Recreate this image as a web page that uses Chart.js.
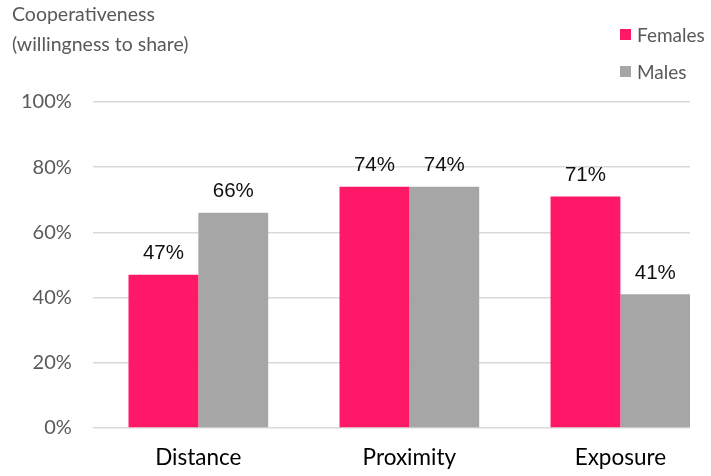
<!DOCTYPE html>
<html><head><meta charset="utf-8">
<script src="https://cdn.jsdelivr.net/npm/chart.js@4"></script>
<style>html,body{margin:0;padding:0;background:#fff;overflow:hidden;width:711px;height:476px}#wrap{width:711px;height:476px;overflow:hidden}</style>
</head><body><div id="wrap"><canvas id="c" width="711" height="488"></canvas></div>
<script>
const categories = ["Distance", "Proximity", "Exposure"];
const females = [47, 74, 71];
const males = [66, 74, 41];
const seriesNames = ["Females", "Males"];
const yTicks = [0, 20, 40, 60, 80, 100];
const titleLines = ["Cooperativeness", "(willingness to share)"];

const PINK = "#FF1867", GRAY = "#A6A6A6", TXT = "#595959";
const FONT = "Lato, 'Open Sans', sans-serif";

const titleAndLegend = {
  id: "titleAndLegend",
  afterDraw(chart) {
    const ctx = chart.ctx;
    ctx.save();
    ctx.fillStyle = TXT;
    ctx.font = "19.5px " + FONT;
    ctx.textBaseline = "middle";
    ctx.textAlign = "left";
    titleLines.forEach((t, i) => ctx.fillText(t, 12, 15 + i * 30));
    const ys = [34.5, 71.5];
    chart.data.datasets.forEach((ds, i) => {
      ctx.fillStyle = ds.backgroundColor;
      ctx.fillRect(620, ys[i] - 5.5, 11, 11);
      ctx.fillStyle = TXT;
      ctx.font = "19px " + FONT;
      ctx.fillText(ds.label, 637, ys[i] + 1);
    });
    ctx.restore();
  }
};

const valueLabels = {
  id: "valueLabels",
  afterDatasetsDraw(chart) {
    const ctx = chart.ctx;
    ctx.save();
    ctx.font = "20.5px 'Liberation Sans', Arial, sans-serif";
    ctx.fillStyle = "#111";
    ctx.textAlign = "center";
    ctx.textBaseline = "middle";
    chart.data.datasets.forEach((ds, i) => {
      chart.getDatasetMeta(i).data.forEach((bar, j) => {
        ctx.fillText(ds.data[j].y + "%", bar.x, bar.y - 21);
      });
    });
    ctx.restore();
  }
};

new Chart(document.getElementById("c"), {
  type: "bar",
  data: {
    datasets: [
      { label: seriesNames[0], data: females.map((v, i) => ({ x: i, y: v })), backgroundColor: PINK },
      { label: seriesNames[1], data: males.map((v, i) => ({ x: i, y: v })), backgroundColor: GRAY }
    ]
  },
  options: {
    responsive: false,
    animation: false,
    devicePixelRatio: 1,
    categoryPercentage: 0.662,
    barPercentage: 1,
    layout: { padding: { left: 0, right: 21, top: 102, bottom: 0 } },
    plugins: {
      legend: { display: false },
      tooltip: { enabled: false },
      title: { display: false }
    },
    scales: {
      x: {
        type: "linear", min: -0.5, max: 2.33, offset: false, bounds: "data",
        afterBuildTicks: (axis) => { axis.ticks = categories.map((c, i) => ({ value: i })); },
        grid: { display: false, drawTicks: false },
        border: { display: false },
        ticks: {
          color: "#000", padding: 16.5, maxRotation: 0, autoSkip: false,
          font: { family: FONT, size: 22.5 },
          callback: (v) => categories[v]
        }
      },
      y: {
        min: 0, max: 100,
        afterBuildTicks: (axis) => { axis.ticks = yTicks.map(v => ({ value: v })); },
        grid: { color: "#D9D9D9", lineWidth: 1.5, drawTicks: false },
        border: { display: false },
        ticks: {
          color: TXT, padding: 21,
          font: { family: FONT, size: 20 },
          callback: (v) => v + "%"
        }
      }
    }
  },
  plugins: [titleAndLegend, valueLabels]
});
</script></body></html>
